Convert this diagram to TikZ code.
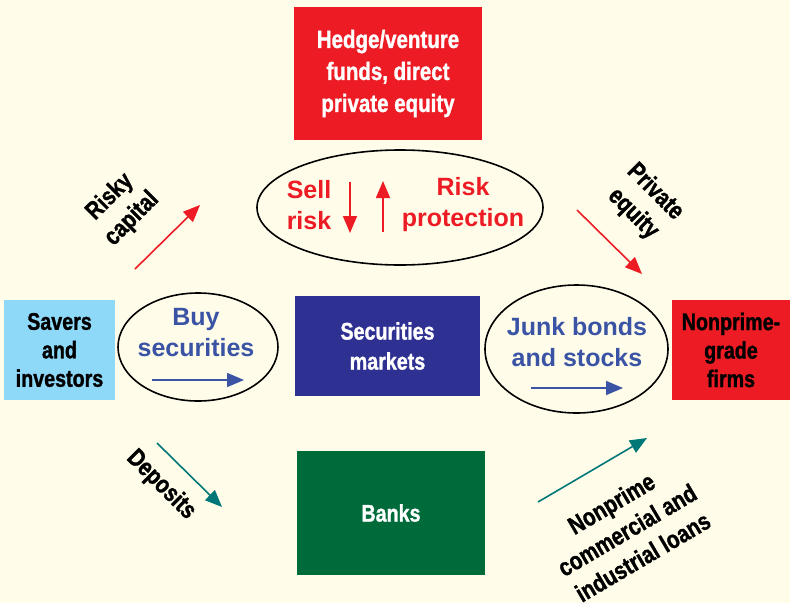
\documentclass[tikz,border=0pt]{standalone}
\usepackage{fontspec}
\setmainfont{Liberation Sans}
\newfontfamily\cond{Liberation Sans}[FakeStretch=0.82,FakeBold=1.2]
\usetikzlibrary{arrows.meta,shapes.geometric}
\definecolor{bgc}{HTML}{FFFDEA}
\definecolor{fedred}{HTML}{ED1C24}
\definecolor{navy}{HTML}{2E3192}
\definecolor{bankgreen}{HTML}{006B3A}
\definecolor{skyb}{HTML}{8ED8F8}
\definecolor{txtblue}{HTML}{3A53A4}
\definecolor{teal2}{HTML}{007878}
\tikzset{
  boxnode/.style={rectangle, inner sep=0pt, align=center, font={\cond\bfseries\fontsize{24}{30}\selectfont}},
  ellnode/.style={ellipse, draw=black, line width=1.6pt, inner sep=0pt},
  elltext/.style={inner sep=0pt, font={\bfseries\fontsize{25}{31}\selectfont}},
  flowlabel/.style={inner sep=0pt, align=center, font={\cond\bfseries\fontsize{25}{31}\selectfont}},
  flowarrow/.style={line width=1.6pt, -{Triangle[length=17pt,width=14pt]}},
}
\begin{document}
\begin{tikzpicture}[x=1pt,y=-1pt]
\fill[bgc] (0,0) rectangle (790,603);
\useasboundingbox (0,0) rectangle (790,603);

% boxes
\node[boxnode, fill=fedred, text=white, minimum width=188pt, minimum height=133pt, font={\cond\bfseries\fontsize{25}{32}\selectfont}] (hedge) at (388,73.5) {Hedge/venture\\funds, direct\\private equity};
\node[boxnode, fill=navy, text=white, minimum width=185pt, minimum height=100pt] (secm) at (387.5,346) {Securities\\markets};
\node[boxnode, fill=bankgreen, text=white, minimum width=188pt, minimum height=124pt] (banks) at (391,513) {Banks};
\node[boxnode, fill=skyb, text=black, minimum width=111pt, minimum height=100pt, font={\cond\bfseries\fontsize{24}{28.5}\selectfont}] (savers) at (59.5,350) {Savers\\and\\investors};
\node[boxnode, fill=fedred, text=black, minimum width=118pt, minimum height=100pt, font={\cond\bfseries\fontsize{24}{28.5}\selectfont}] (firms) at (731,350) {Nonprime-\\grade\\firms};

% ellipses
\node[ellnode, minimum width=286pt, minimum height=115pt] (riskell) at (400,207.5) {};
\node[ellnode, minimum width=160pt, minimum height=108pt] (buyell) at (198,347) {};
\node[ellnode, minimum width=183pt, minimum height=128pt] (junkell) at (576.5,349) {};

% ellipse texts
\node[elltext, text=fedred, align=left] (sell) at (309,205) {Sell\\risk};
\node[elltext, text=fedred, align=center] (prot) at (463,205) {Risk\\protection};
\node[elltext, text=txtblue, align=center] (buy) at (196,333) {Buy\\securities};
\node[elltext, text=txtblue, align=center] (junk) at (577,342) {Junk bonds\\and stocks};

% arrow end points
\coordinate (sellA) at (350,182);
\coordinate (sellB) at (350,233);
\coordinate (protA) at (383,232);
\coordinate (protB) at (383,181);
\coordinate (buyA) at (152,380);
\coordinate (buyB) at (244,380);
\coordinate (junkA) at (531,388);
\coordinate (junkB) at (623,388);
\coordinate (rcA) at (135,269);
\coordinate (rcB) at (200,205);
\coordinate (peA) at (577,210);
\coordinate (peB) at (642,274);
\coordinate (depA) at (157,443);
\coordinate (depB) at (222,507);
\coordinate (loanA) at (538,502);
\coordinate (loanB) at (647,438);

\draw[flowarrow, fedred] (sellA) -- (sellB);
\draw[flowarrow, fedred] (protA) -- (protB);
\draw[flowarrow, txtblue] (buyA) -- (buyB);
\draw[flowarrow, txtblue] (junkA) -- (junkB);
\draw[flowarrow, fedred] (rcA) -- (rcB);
\draw[flowarrow, fedred] (peA) -- (peB);
\draw[flowarrow, teal2] (depA) -- (depB);
\draw[flowarrow, teal2] (loanA) -- (loanB);

% flow labels
\node[flowlabel, rotate=45] (rclabel) at (121,208) {Risky\\capital};
\node[flowlabel, rotate=-45] (pelabel) at (644,203) {Private\\equity};
\node[flowlabel, rotate=-45] (deplabel) at (161,485) {Deposits};
\node[flowlabel, rotate=30.5] (loanlabel) at (627,530) {Nonprime\\commercial and\\industrial loans};
\end{tikzpicture}
\end{document}
